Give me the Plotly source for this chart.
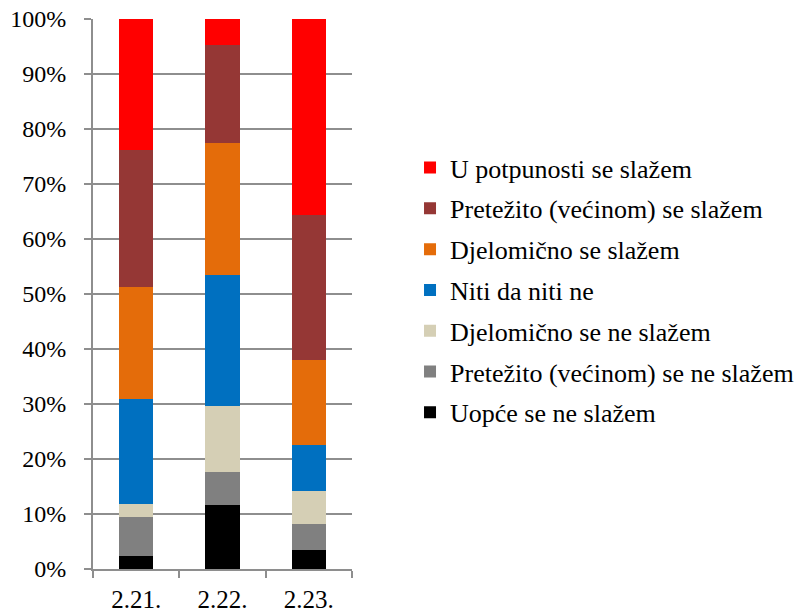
import plotly.graph_objects as go

categories = ["2.21.", "2.22.", "2.23."]

series_names = [
    "Uopće se ne slažem",
    "Pretežito (većinom) se ne slažem",
    "Djelomično se ne slažem",
    "Niti da niti ne",
    "Djelomično se slažem",
    "Pretežito (većinom) se slažem",
    "U potpunosti se slažem",
]
uopce = [2.3, 11.7, 3.5]
pretezito_ne = [7.1, 6.0, 4.7]
djelomicno_ne = [2.4, 12.0, 6.0]
niti = [19.1, 23.8, 8.3]
djelomicno = [20.3, 23.9, 15.5]
pretezito = [25.0, 17.9, 26.3]
potpuno = [23.8, 4.7, 35.7]
series_values = [uopce, pretezito_ne, djelomicno_ne, niti, djelomicno, pretezito, potpuno]
colors = ["#000000", "#808080", "#D5CFB5", "#0070C0", "#E46C0A", "#953735", "#FF0000"]

y_ticks = [0, 10, 20, 30, 40, 50, 60, 70, 80, 90, 100]
y_tick_labels = [f"{t}%" for t in y_ticks]

FONT = "Liberation Serif"
fig = go.Figure()
n = len(series_names)
for i, (name, vals, col) in enumerate(zip(series_names, series_values, colors)):
    fig.add_trace(go.Bar(
        x=categories, y=vals, name=name, legendgroup=name,
        legendrank=n - i,
        marker=dict(color=col, line=dict(width=0)),
    ))

fig.update_layout(
    barmode="stack",
    bargap=0.6,
    width=811, height=615,
    margin=dict(l=93, r=448, t=19, b=46),
    plot_bgcolor="white", paper_bgcolor="white",
    font=dict(family=FONT, size=24, color="black"),
    showlegend=True,
    legend=dict(
        x=1.224, y=0.507, xanchor="left", yanchor="middle",
        traceorder="grouped", tracegroupgap=4,
        font=dict(family=FONT, size=26, color="black"),
        itemwidth=30,
    ),
    xaxis=dict(
        type="category", range=[-0.5, 2.5], automargin=False,
        showline=True, linecolor="#8E8E8E", linewidth=2,
        ticks="outside", tickson="boundaries", ticklen=7,
        tickcolor="#8E8E8E", tickwidth=2,
        showgrid=False,
        ticklabelstandoff=7,
        tickfont=dict(family=FONT, size=25, color="black"),
    ),
    yaxis=dict(
        range=[0, 100], tickvals=y_ticks, ticktext=y_tick_labels,
        automargin=False,
        showline=True, linecolor="#8E8E8E", linewidth=2,
        ticks="outside", ticklen=7, tickcolor="#8E8E8E", tickwidth=2,
        showgrid=True, gridcolor="#8E8E8E", gridwidth=2,
        zeroline=False,
        ticklabelstandoff=13,
        tickfont=dict(family=FONT, size=24, color="black"),
    ),
)

fig.write_html("out.html", config={"displayModeBar": False},
               post_script="document.body.style.margin='0px';")
